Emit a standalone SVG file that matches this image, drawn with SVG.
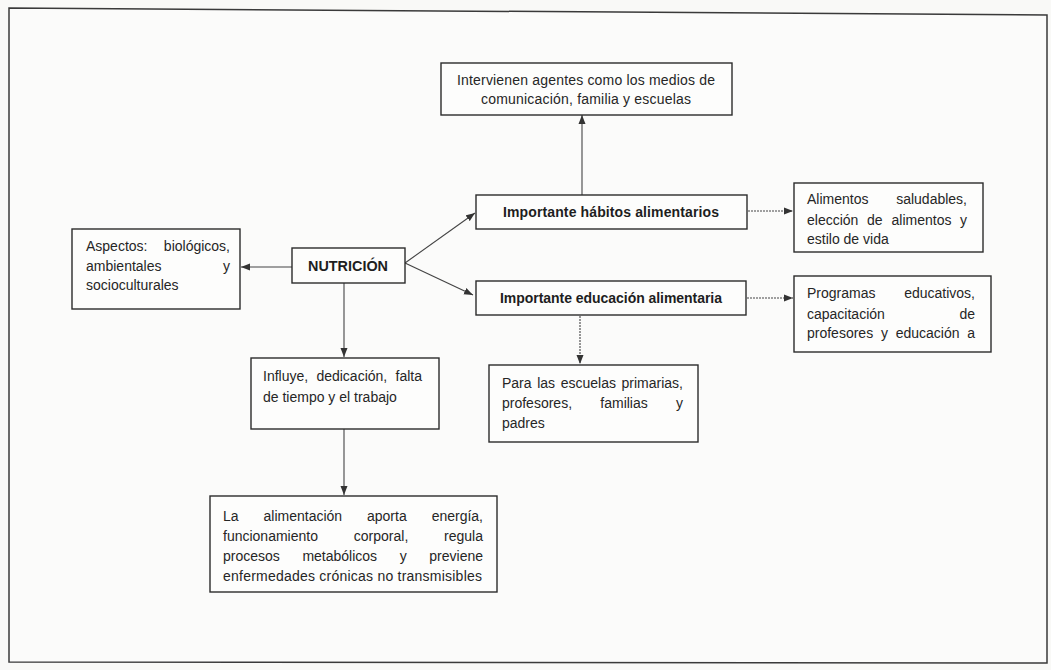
<svg xmlns="http://www.w3.org/2000/svg" width="1051" height="670" viewBox="0 0 1051 670">
<style>
.box{fill:#fdfdfc;stroke:#2b2b2b;stroke-width:1.4}
.t{font-family:"Liberation Sans",Arial,sans-serif;font-size:14px;fill:#262626}
.b{font-family:"Liberation Sans",Arial,sans-serif;font-size:14px;font-weight:bold;fill:#1e1e1e}
.e{text-anchor:end}
.m{text-anchor:middle}
.c{fill:none;stroke:#444;stroke-width:1.1}
.d{stroke-dasharray:2 1}
</style>
<defs>
<marker id="ah" markerUnits="userSpaceOnUse" markerWidth="10" markerHeight="8" refX="9" refY="4" orient="auto">
<path d="M0,0.5 L9,4 L0,7.5 Z" fill="#333"/>
</marker>
</defs>
<rect x="0" y="0" width="1051" height="670" fill="#f9f9f7"/>
<polygon points="9,8 1047,15 1047,663 9,662" fill="#fbfbfa" stroke="#3a3a3a" stroke-width="1.5"/>

<g id="connectors">
<line class="c" x1="292" y1="267" x2="241" y2="267" marker-end="url(#ah)"/>
<line class="c" x1="405" y1="263" x2="475" y2="213" marker-end="url(#ah)"/>
<line class="c" x1="405" y1="263" x2="473" y2="295" marker-end="url(#ah)"/>
<line class="c" x1="582" y1="195" x2="582" y2="115" marker-end="url(#ah)"/>
<line class="c d" x1="748" y1="211" x2="793" y2="211" marker-end="url(#ah)"/>
<line class="c d" x1="747" y1="298" x2="793" y2="298" marker-end="url(#ah)"/>
<line class="c d" x1="580" y1="316" x2="580" y2="364" marker-end="url(#ah)"/>
<line class="c" x1="344" y1="283" x2="344" y2="357" marker-end="url(#ah)"/>
<line class="c" x1="344" y1="429" x2="344" y2="495" marker-end="url(#ah)"/>
</g>

<g id="nutricion">
<rect class="box" x="292" y="248" width="113" height="35"/>
<text class="b m" x="348" y="271" textLength="80" lengthAdjust="spacingAndGlyphs">NUTRICIÓN</text>
</g>

<g id="aspectos">
<rect class="box" x="72" y="229" width="168" height="80"/>
<text class="t" x="86" y="251">Aspectos:</text>
<text class="t e" x="230" y="251">biológicos,</text>
<text class="t" x="86" y="271">ambientales</text>
<text class="t e" x="230" y="271">y</text>
<text class="t" x="86" y="290">socioculturales</text>
</g>

<g id="intervienen">
<rect class="box" x="441" y="63" width="291" height="52"/>
<text class="t m" x="586" y="85" textLength="258">Intervienen agentes como los medios de</text>
<text class="t m" x="586" y="104" textLength="210">comunicación, familia y escuelas</text>
</g>

<g id="habitos">
<rect class="box" x="476" y="195" width="271" height="34"/>
<text class="b m" x="611" y="217" textLength="216">Importante hábitos alimentarios</text>
</g>

<g id="educacion">
<rect class="box" x="476" y="281" width="270" height="34"/>
<text class="b m" x="611" y="303" textLength="222">Importante educación alimentaria</text>
</g>

<g id="alimentos">
<rect class="box" x="794" y="183" width="189" height="69"/>
<text class="t" x="807" y="204">Alimentos</text>
<text class="t e" x="967" y="204">saludables,</text>
<text class="t" x="807" y="225">elección</text>
<text class="t" x="867" y="225">de</text>
<text class="t" x="891.5" y="225">alimentos</text>
<text class="t e" x="967" y="225">y</text>
<text class="t" x="807" y="244">estilo de vida</text>
</g>

<g id="programas">
<rect class="box" x="794" y="276" width="197" height="76"/>
<text class="t" x="807" y="298">Programas</text>
<text class="t e" x="975" y="298">educativos,</text>
<text class="t" x="807" y="319">capacitación</text>
<text class="t e" x="975" y="319">de</text>
<text class="t" x="807" y="338">profesores</text>
<text class="t" x="881" y="338">y</text>
<text class="t" x="895.7" y="338">educación</text>
<text class="t e" x="975" y="338">a</text>
</g>

<g id="escuelas">
<rect class="box" x="489" y="365" width="209" height="77"/>
<text class="t" x="502" y="388">Para</text>
<text class="t" x="537.2" y="388">las</text>
<text class="t" x="560.7" y="388">escuelas</text>
<text class="t e" x="683" y="388">primarias,</text>
<text class="t" x="502" y="408">profesores,</text>
<text class="t" x="600.3" y="408">familias</text>
<text class="t e" x="683" y="408">y</text>
<text class="t" x="502" y="428">padres</text>
</g>

<g id="influye">
<rect class="box" x="251" y="358" width="188" height="71"/>
<text class="t" x="263" y="381">Influye,</text>
<text class="t" x="316.4" y="381">dedicación,</text>
<text class="t e" x="422" y="381">falta</text>
<text class="t" x="263" y="402">de tiempo y el trabajo</text>
</g>

<g id="alimentacion">
<rect class="box" x="210" y="496" width="287" height="96"/>
<text class="t" x="223" y="521">La</text>
<text class="t" x="263.5" y="521">alimentación</text>
<text class="t" x="367" y="521">aporta</text>
<text class="t e" x="483" y="521">energía,</text>
<text class="t" x="223" y="541">funcionamiento</text>
<text class="t" x="353.8" y="541">corporal,</text>
<text class="t e" x="483" y="541">regula</text>
<text class="t" x="223" y="561">procesos</text>
<text class="t" x="302.4" y="561">metabólicos</text>
<text class="t" x="399.7" y="561">y</text>
<text class="t e" x="483" y="561">previene</text>
<text class="t" x="223" y="581" textLength="259">enfermedades crónicas no transmisibles</text>
</g>
</svg>
